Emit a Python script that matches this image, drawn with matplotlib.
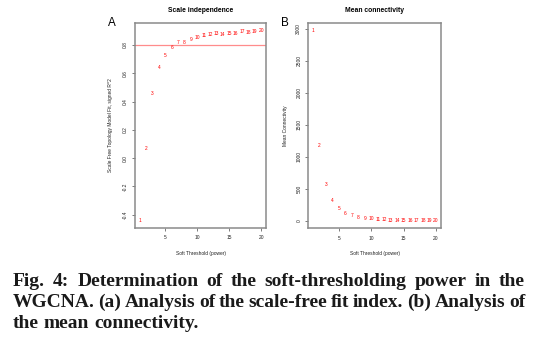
import matplotlib
matplotlib.use("Agg")
import matplotlib.pyplot as plt
import numpy as np

# ---- data ----
powers = list(range(1, 21))
sft_r2 = [-0.44, 0.066, 0.454, 0.64, 0.724, 0.779, 0.816, 0.819, 0.837, 0.852,
          0.864, 0.873, 0.878, 0.876, 0.883, 0.883, 0.892, 0.890, 0.894, 0.901]
mean_k = [2965, 1181, 567, 312, 192, 114, 83, 56, 41, 31,
          22, 16, 12, 9, 7, 5, 4, 3, 2.5, 2]
r2_cut = 0.80
xticks = [5, 10, 15, 20]
yticks_a = [-0.4, -0.2, 0.0, 0.2, 0.4, 0.6, 0.8]
yticks_b = [0, 500, 1000, 1500, 2000, 2500, 3000]
title_a = "Scale independence"
title_b = "Mean connectivity"
xlab = "Soft Threshold (power)"
ylab_a = "Scale Free Topology Model Fit, signed R^2"
ylab_b = "Mean Connectivity"
caption_lines = [
    "Fig. 4: Determination of the soft-thresholding power in the",
    "WGCNA. (a) Analysis of the scale-free fit index. (b) Analysis of",
    "the mean connectivity.",
]

W, H = 537, 348
DPI = 100
fig = plt.figure(figsize=(W / DPI, H / DPI), dpi=DPI)
SANS = ["Liberation Sans", "DejaVu Sans"]
FRAME = "#8a8a8a"


def fx(px):
    return px / W


def fy(py):
    return 1 - py / H


def rlim(vals):
    lo, hi = min(vals), max(vals)
    d = (hi - lo) * 0.04
    return lo - d, hi + d


def make_axes(left, right, top, bottom):
    ax = fig.add_axes([fx(left), fy(bottom), fx(right - left), (bottom - top) / H])
    for s in ax.spines.values():
        s.set_color(FRAME)
        s.set_linewidth(1.1)
    ax.tick_params(axis="both", length=2.2, width=0.6, color="#666666",
                   labelsize=3.5, labelcolor="#222222")
    ax.tick_params(axis="x", pad=3.0)
    ax.tick_params(axis="y", pad=2.8, labelrotation=90)
    return ax


# Panel A
axA = make_axes(135, 266, 23, 228)
axA.set_xlim(rlim(powers))
axA.set_ylim(rlim(sft_r2))
axA.axhline(r2_cut, color="#ff8c8c", lw=0.9, zorder=1)
for p, v in zip(powers, sft_r2):
    axA.text(p, v, str(p), color="red", fontsize=3.5, family=SANS,
             ha="center", va="center", zorder=3)
axA.set_xticks(xticks)
axA.set_xticklabels([str(t) for t in xticks], family=SANS)
axA.set_yticks(yticks_a)
axA.set_yticklabels([f"{t:.1f}" for t in yticks_a], family=SANS, va="center")

# Panel B
axB = make_axes(308.3, 440.7, 23.3, 228.3)
axB.set_xlim(rlim(powers))
axB.set_ylim(rlim(mean_k))
for p, v in zip(powers, mean_k):
    axB.text(p, v, str(p), color="red", fontsize=3.5, family=SANS,
             ha="center", va="center", zorder=3)
axB.set_xticks(xticks)
axB.set_xticklabels([str(t) for t in xticks], family=SANS)
axB.set_yticks(yticks_b)
axB.set_yticklabels([str(t) for t in yticks_b], family=SANS, va="center")

# titles, labels
fig.text(fx(200.5), fy(11), title_a, fontsize=4.9, fontweight="bold",
         family=SANS, ha="center", va="center")
fig.text(fx(374.5), fy(11), title_b, fontsize=4.9, fontweight="bold",
         family=SANS, ha="center", va="center")
fig.text(fx(112.3), fy(22.7), "A", fontsize=8.4, family=SANS,
         ha="center", va="center")
fig.text(fx(285), fy(22.7), "B", fontsize=8.4, family=SANS,
         ha="center", va="center")
fig.text(fx(110.7), fy(125.5), ylab_a, fontsize=3.5, family=SANS,
         rotation=90, ha="center", va="center", color="#222222")
fig.text(fx(285.5), fy(125.8), ylab_b, fontsize=3.5, family=SANS,
         rotation=90, ha="center", va="center", color="#222222")
fig.text(fx(200.5), fy(253), xlab, fontsize=3.5, family=SANS,
         ha="center", va="center", color="#222222")
fig.text(fx(374.5), fy(253), xlab, fontsize=3.5, family=SANS,
         ha="center", va="center", color="#222222")

# caption, justified
SERIF = ["Liberation Serif", "DejaVu Serif"]
CAP_SIZE = 14
CAP_COLOR = "#1a1a1a"
left_px, right_px = 13, 525
baselines = [286, 307, 328]
renderer = fig.canvas.get_renderer()
space_t = fig.text(0, 0, "a a", fontsize=CAP_SIZE, fontweight="bold", family=SERIF)
aa_t = fig.text(0, 0, "aa", fontsize=CAP_SIZE, fontweight="bold", family=SERIF)
space_w = (space_t.get_window_extent(renderer).width
           - aa_t.get_window_extent(renderer).width)
space_t.remove()
aa_t.remove()
for i, (line, yb) in enumerate(zip(caption_lines, baselines)):
    words = line.split(" ")
    objs = [fig.text(0, fy(yb), w, fontsize=CAP_SIZE, fontweight="bold",
                     family=SERIF, ha="left", va="baseline", color=CAP_COLOR)
            for w in words]
    widths = [o.get_window_extent(renderer).width for o in objs]
    justify = i < len(caption_lines) - 1
    if justify and len(words) > 1:
        gap = (right_px - left_px - sum(widths)) / (len(words) - 1)
        gap = max(gap, 0.5 * space_w)
    else:
        gap = space_w
    x = left_px
    for o, wd in zip(objs, widths):
        o.set_x(fx(x))
        x += wd + gap

fig.savefig("out.png", dpi=DPI)
